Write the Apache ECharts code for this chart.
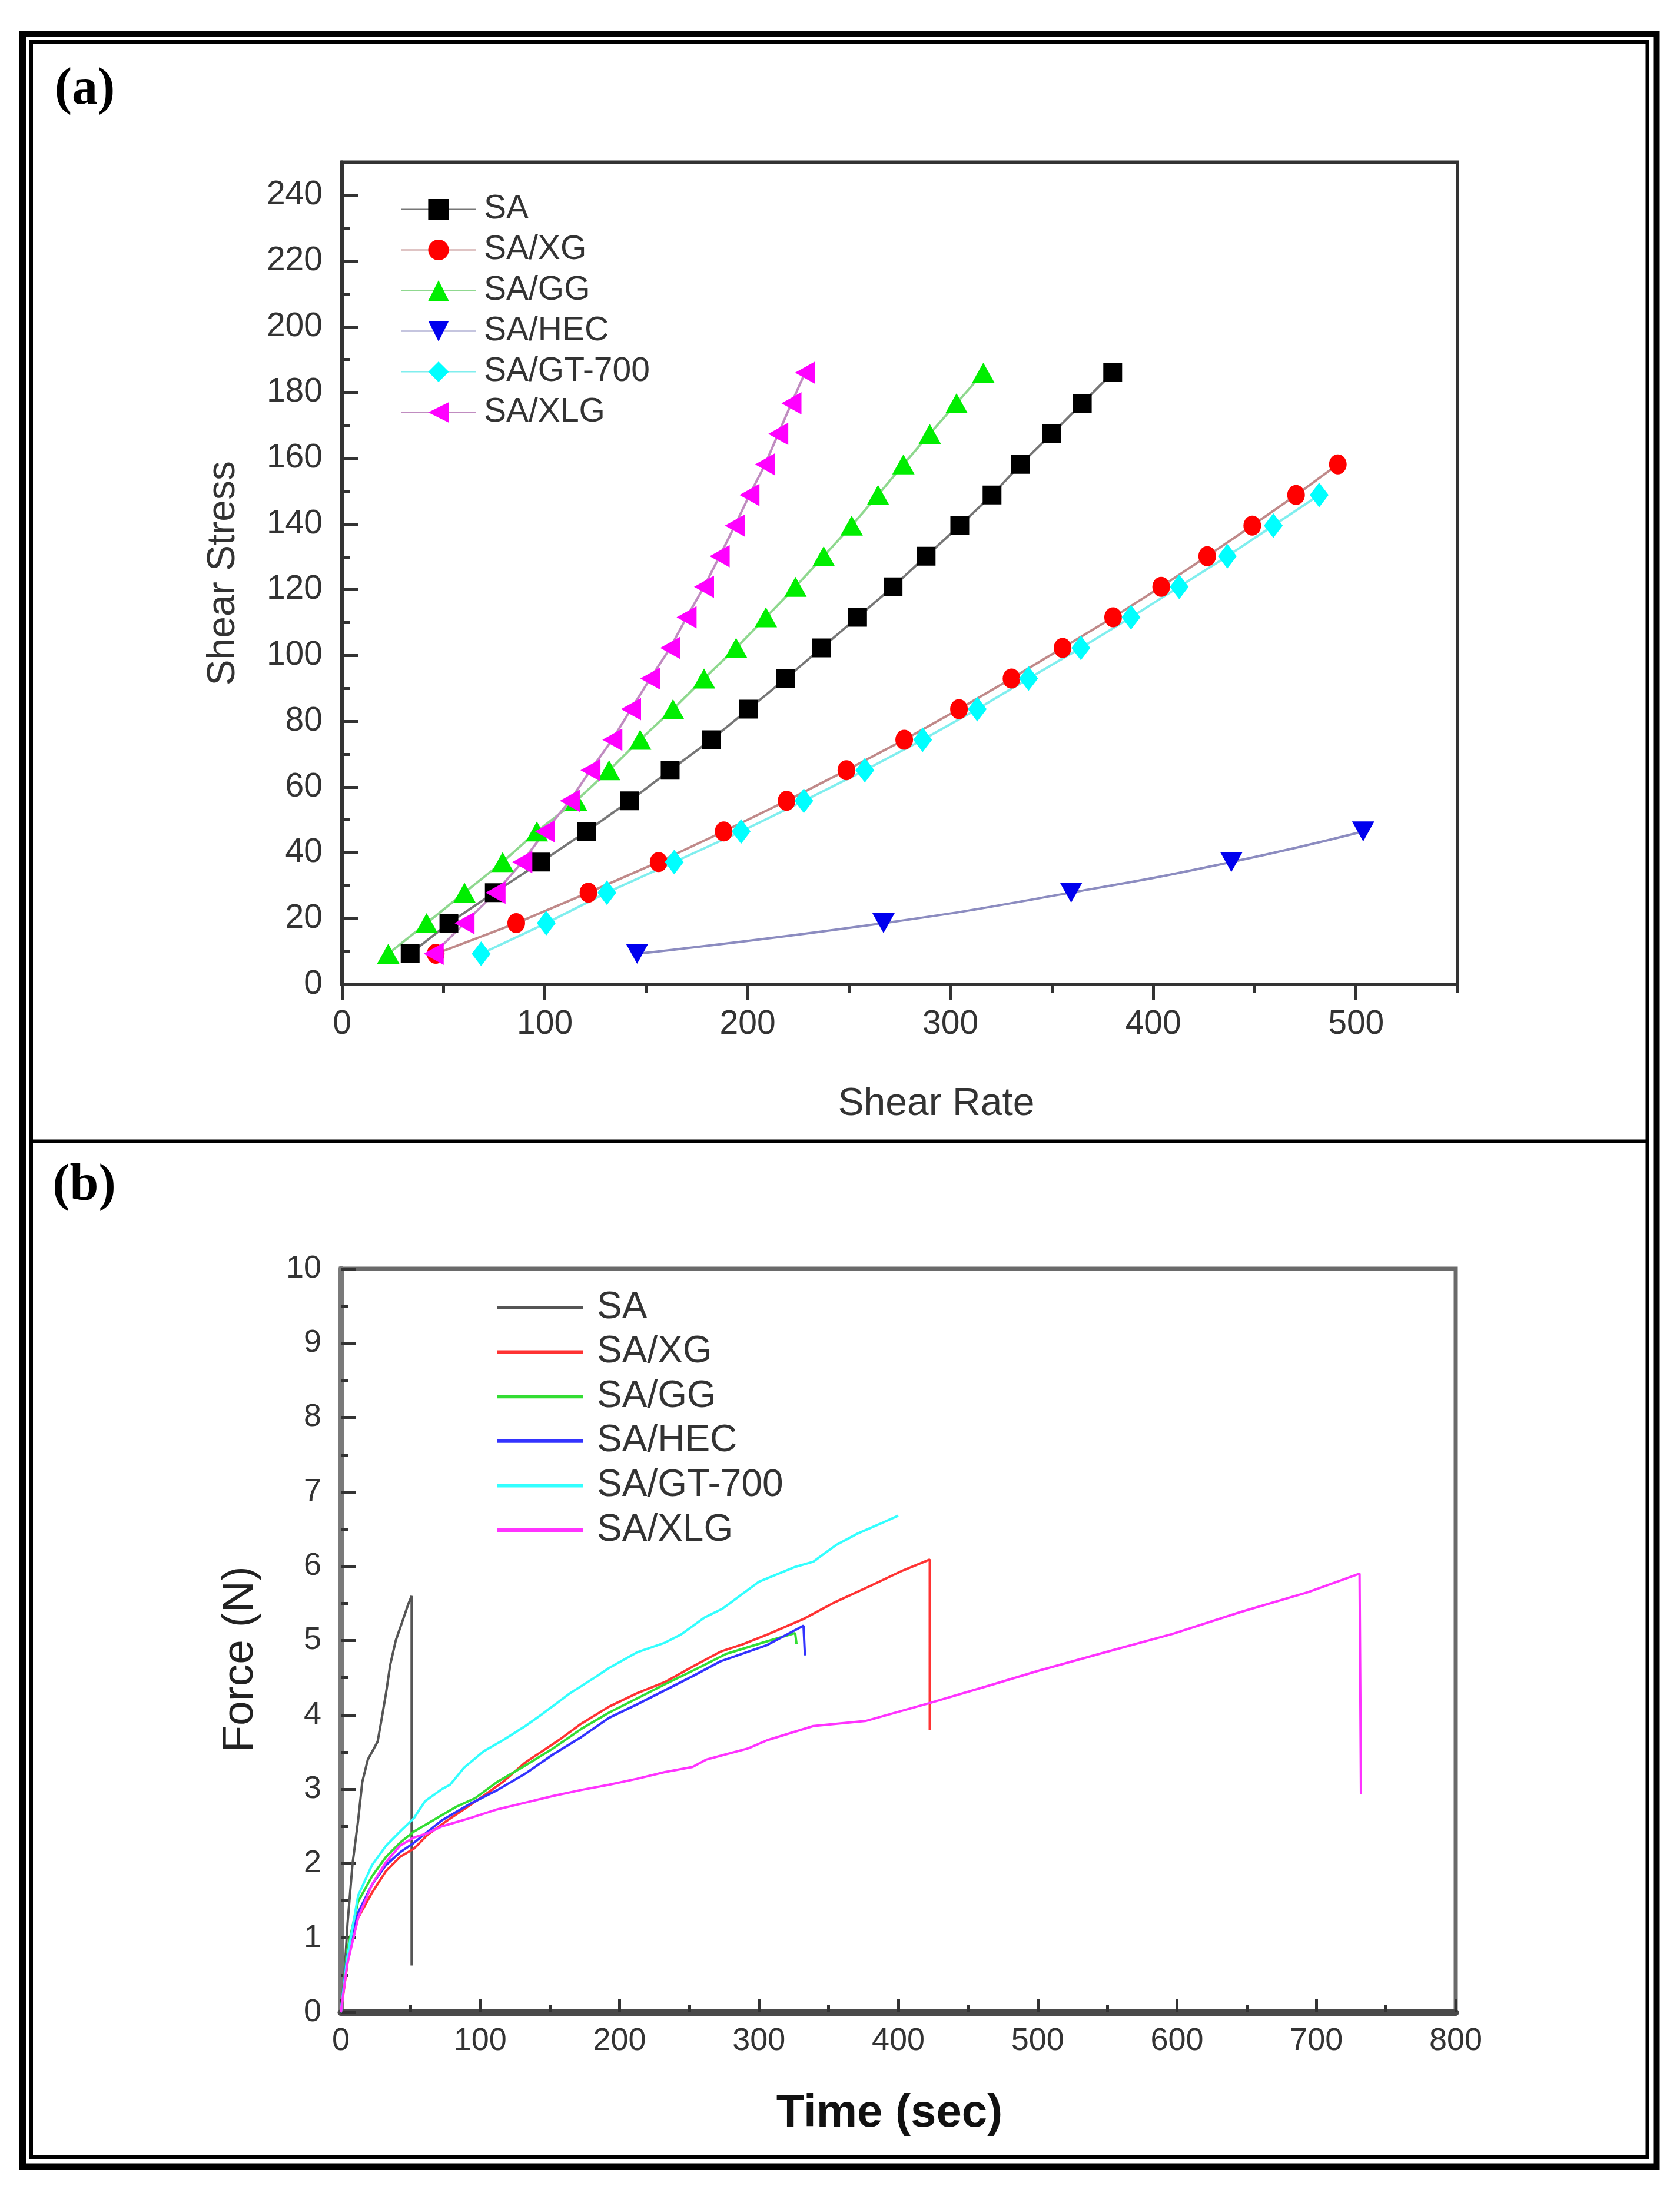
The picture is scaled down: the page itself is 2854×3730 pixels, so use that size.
<!DOCTYPE html>
<html>
<head>
<meta charset="utf-8">
<script src="https://cdn.jsdelivr.net/npm/echarts@6/dist/echarts.min.js"></script>
<style>
  html, body { margin: 0; padding: 0; background: #fff; }
  #main { width: 2854px; height: 3730px; }
</style>
</head>
<body>
<div id="main"></div>
<script>
// ---- panel (a): shear stress vs shear rate ----
// stress steps used by the rheometer (same for every sample)
const stressLevels = [9.3, 18.6, 27.9, 37.2, 46.5, 55.8, 65.1, 74.4, 83.7, 93.0,
  102.3, 111.6, 120.9, 130.2, 139.5, 148.8, 158.1, 167.4, 176.7, 186.0];
const saRate  = [33.6, 52.7, 75.1, 98.1, 120.5, 141.8, 161.8, 182.1, 200.5, 218.8,
  236.5, 254.2, 271.7, 288, 304.6, 320.5, 334.5, 350, 365, 380];
const xgRate  = [46.2, 85.9, 121.5, 156.1, 188.2, 219.2, 248.7, 277.2, 304.2, 330.1,
  355.3, 380.2, 403.9, 426.6, 448.8, 470.4, 491];
const ggRate  = [22.8, 41.7, 60.4, 79.2, 96.1, 115.4, 131.7, 147, 163.2, 178.5,
  194.3, 209, 223.6, 237.5, 251.3, 264.3, 276.8, 289.8, 303, 316.2];
const hecRate = [145.5, 267, 359.5, 438.5, 503.5];
const gtRate  = [68.6, 100.7, 130.6, 163.8, 196.8, 227.7, 257.8, 286.3, 313.2, 338.5,
  364.3, 389, 412.8, 436.5, 459.2, 481.8];
const xlgRate = [45.2, 60.4, 75.7, 88.9, 100.1, 112.3, 122.5, 133.3, 142.5, 152,
  161.8, 169.9, 178.5, 186.2, 193.7, 200.9, 208.6, 215.1, 221.6, 228.3];
const rateTicks   = [0, 100, 200, 300, 400, 500];
const stressTicks = [0, 20, 40, 60, 80, 100, 120, 140, 160, 180, 200, 220, 240];

// ---- panel (b): force vs time ----
const saTime   = [0, 2.4, 4.8, 8.4, 12.4, 15.4, 19.4, 26.4, 29.4, 32.4, 35.4, 39.4, 44.4, 48.4, 50.8, 50.8];
const saForce  = [0, 0.45, 1.19, 2.0, 2.58, 3.1, 3.4, 3.64, 3.96, 4.29, 4.67, 5.0, 5.27, 5.49, 5.6, 0.63];
const xgTime   = [0, 5.4, 12.4, 22.4, 32.4, 42.4, 52.4, 62.4, 76.4, 88.4, 102.4, 116.4, 132.4, 144.4,
  156.4, 172.4, 192.4, 212.4, 232.4, 254.4, 272.4, 288.4, 306, 332, 355, 380.6, 403, 422.6, 422.6];
const xgForce  = [0, 0.75, 1.27, 1.61, 1.90, 2.09, 2.2, 2.39, 2.58, 2.73, 2.91, 3.1, 3.36, 3.51,
  3.66, 3.88, 4.11, 4.29, 4.44, 4.67, 4.85, 4.95, 5.08, 5.29, 5.52, 5.74, 5.94, 6.09, 3.80];
const ggTime   = [0, 4.4, 12.4, 22.4, 32.4, 42.4, 52.4, 62.4, 72.4, 82.4, 96.4, 112.4, 132.4, 152.4,
  172.4, 192.4, 212.4, 232.4, 256.4, 276.4, 306, 326, 327];
const ggForce  = [0, 0.82, 1.49, 1.83, 2.09, 2.28, 2.43, 2.54, 2.65, 2.76, 2.88, 3.1, 3.32, 3.55,
  3.81, 4.03, 4.22, 4.41, 4.63, 4.82, 4.99, 5.10, 4.95];
const hecTime  = [0, 4.4, 12.4, 22.4, 32.4, 42.4, 52.4, 62.4, 72.4, 82.4, 92.4, 112.4, 132.4, 152.4,
  172.4, 192.4, 212.4, 232.4, 252.4, 272.4, 306, 332, 333];
const hecForce = [0, 0.75, 1.34, 1.72, 1.98, 2.15, 2.28, 2.43, 2.58, 2.69, 2.8, 2.99, 3.21, 3.47,
  3.7, 3.96, 4.14, 4.33, 4.52, 4.72, 4.94, 5.2, 4.8];
const gtTime   = [0, 4.4, 12.4, 22.4, 32.4, 42.4, 52.4, 60.4, 72.4, 78.4, 88.4, 102.4, 116.4, 132.4,
  144.4, 164.4, 180.4, 192.4, 212.4, 232.4, 244, 261, 274, 300, 326, 339, 355, 371, 387, 400];
const gtForce  = [0, 0.71, 1.57, 1.98, 2.24, 2.43, 2.61, 2.84, 3.0, 3.06, 3.29, 3.51, 3.66, 3.85,
  4.01, 4.29, 4.48, 4.63, 4.84, 4.97, 5.08, 5.31, 5.43, 5.79, 5.99, 6.06, 6.28, 6.44, 6.57, 6.68];
const xlgTime  = [0, 4.4, 12.4, 22.4, 32.4, 42.4, 52.4, 62.4, 72.4, 92.4, 112.4, 132.4, 152.4, 172.4,
  192.4, 212.4, 232.4, 252.4, 262.4, 276.4, 292.4, 306, 339, 377, 422.6, 468, 500, 548, 597, 645,
  694, 731, 732];
const xlgForce = [0, 0.63, 1.27, 1.72, 2.02, 2.24, 2.35, 2.41, 2.5, 2.61, 2.73, 2.82, 2.91, 2.99,
  3.06, 3.14, 3.23, 3.30, 3.40, 3.47, 3.55, 3.66, 3.85, 3.92, 4.16, 4.41, 4.59, 4.84, 5.09, 5.38,
  5.65, 5.90, 2.93];

const names = ['SA', 'SA/XG', 'SA/GG', 'SA/HEC', 'SA/GT-700', 'SA/XLG'];

const sans = '"Liberation Sans", Arial, sans-serif';
const pairs = (xs, ys) => xs.map((x, i) => [x, ys[i]]);

function rheo(name, rates, symbol, size, rotate, color, lineColor, smooth) {
  return {
    name: name, type: 'line', xAxisIndex: 0, yAxisIndex: 0,
    data: pairs(rates, stressLevels),
    symbol: symbol, symbolSize: size, symbolRotate: rotate,
    smooth: smooth, showAllSymbol: true,
    itemStyle: { color: color },
    lineStyle: { color: lineColor, width: 4 }
  };
}

// bottom series get a suffix so each legend points at its own panel
function force(name, ts, fs, color, width) {
  return {
    name: name + ' (b)', type: 'line', xAxisIndex: 2, yAxisIndex: 2,
    data: pairs(ts, fs), symbol: 'none',
    itemStyle: { color: color },
    lineStyle: { color: color, width: width }
  };
}

const myChart = echarts.init(document.getElementById('main'));

myChart.setOption({
  animation: false,
  backgroundColor: '#fff',
  grid: [
    { left: 581, top: 275.5, width: 1895, height: 1396.5, show: true, borderColor: '#333', borderWidth: 6 },
    { left: 579, top: 2155, width: 1894, height: 1263, show: true, borderColor: '#6a6a6a', borderWidth: 7 }
  ],
  xAxis: [
    {
      gridIndex: 0, type: 'value', min: 0, max: 550, interval: 100, position: 'bottom',
      axisLine: { show: true, onZero: false, lineStyle: { color: '#333', width: 6 } },
      axisTick: { show: true, inside: false, length: 27, customValues: rateTicks, lineStyle: { color: '#333', width: 5 } },
      axisLabel: { customValues: rateTicks, margin: 40, fontSize: 57, color: '#333', fontFamily: sans },
      splitLine: { show: false },
      name: 'Shear Rate', nameLocation: 'middle', nameGap: 171,
      nameTextStyle: { fontSize: 66, color: '#333', fontFamily: sans, padding: [0, 0, 0, 124] }
    },
    {
      // minor ticks every 50
      gridIndex: 0, type: 'value', min: 0, max: 550, interval: 50, position: 'bottom',
      axisLine: { show: false },
      axisTick: { show: true, inside: false, length: 14, lineStyle: { color: '#333', width: 5 } },
      axisLabel: { show: false }, splitLine: { show: false }
    },
    {
      gridIndex: 1, type: 'value', min: 0, max: 800, interval: 100, position: 'bottom',
      axisLine: { show: true, onZero: false, lineStyle: { color: '#4a4a4a', width: 11 } },
      axisTick: { show: true, inside: true, length: 23, lineStyle: { color: '#333', width: 5 } },
      minorTick: { show: true, splitNumber: 2, length: 12, lineStyle: { color: '#333', width: 5 } },
      axisLabel: { margin: 22, fontSize: 54, color: '#333', fontFamily: sans },
      splitLine: { show: false },
      name: 'Time (sec)', nameLocation: 'middle', nameGap: 133,
      nameTextStyle: { fontSize: 78, fontWeight: 'bold', color: '#111', fontFamily: sans, padding: [0, 30, 0, 0] }
    }
  ],
  yAxis: [
    {
      gridIndex: 0, type: 'value', min: 0, max: 250, interval: 20, position: 'left',
      axisLine: { show: true, onZero: false, lineStyle: { color: '#333', width: 6 } },
      axisTick: { show: true, inside: true, length: 27, customValues: stressTicks, lineStyle: { color: '#333', width: 5 } },
      axisLabel: { customValues: stressTicks, margin: 33, fontSize: 57, color: '#333', fontFamily: sans },
      splitLine: { show: false },
      name: 'Shear Stress', nameLocation: 'middle', nameGap: 168,
      nameTextStyle: { fontSize: 66, color: '#333', fontFamily: sans }
    },
    {
      // minor ticks every 10
      gridIndex: 0, type: 'value', min: 0, max: 250, interval: 10, position: 'left',
      axisLine: { show: false },
      axisTick: { show: true, inside: true, length: 14, lineStyle: { color: '#333', width: 5 } },
      axisLabel: { show: false }, splitLine: { show: false }
    },
    {
      gridIndex: 1, type: 'value', min: 0, max: 10, interval: 1, position: 'left',
      axisLine: { show: true, onZero: false, lineStyle: { color: '#7a7a7a', width: 9 } },
      axisTick: { show: true, inside: true, length: 25, lineStyle: { color: '#333', width: 5 } },
      minorTick: { show: true, splitNumber: 2, length: 13, lineStyle: { color: '#333', width: 5 } },
      axisLabel: { margin: 33, fontSize: 54, color: '#333', fontFamily: sans },
      splitLine: { show: false },
      name: 'Force (N)', nameLocation: 'middle', nameGap: 133,
      nameTextStyle: { fontSize: 75, color: '#222', fontFamily: sans, padding: [0, 64, 0, 0] }
    }
  ],
  legend: [
    {
      data: names, orient: 'vertical', left: 675, top: 322,
      itemWidth: 128, itemHeight: 44, itemGap: 12,
      textStyle: { fontSize: 57, lineHeight: 57, color: '#333', fontFamily: sans, padding: [0, 0, 0, 8] }
    },
    {
      data: names.map(n => n + ' (b)'), orient: 'vertical', left: 839, top: 2184,
      icon: 'rect', itemWidth: 146, itemHeight: 6, itemGap: 11.6,
      formatter: n => n.replace(' (b)', ''),
      textStyle: { fontSize: 64, lineHeight: 64, color: '#333', fontFamily: sans, padding: [0, 0, 0, 19] }
    }
  ],
  series: [
    rheo('SA', saRate, 'rect', 32, 0, '#000000', '#777777', false),
    rheo('SA/XG', xgRate, 'circle', [30, 34], 0, '#ff0000', '#c08a8a', false),
    rheo('SA/GG', ggRate, 'triangle', [38, 34], 0, '#00ee00', '#8fd88f', false),
    rheo('SA/HEC', hecRate, 'triangle', [38, 34], 180, '#0000ee', '#8c8cc0', true),
    rheo('SA/GT-700', gtRate, 'diamond', [32, 42], 0, '#00ffff', '#80eeee', false),
    rheo('SA/XLG', xlgRate, 'triangle', [38, 34], 90, '#ff00ff', '#c08cc0', false),
    force('SA', saTime, saForce, '#555555', 4),
    force('SA/XG', xgTime, xgForce, '#ff3333', 4),
    force('SA/GG', ggTime, ggForce, '#33dd33', 4),
    force('SA/HEC', hecTime, hecForce, '#3333ff', 4),
    force('SA/GT-700', gtTime, gtForce, '#33ffff', 4),
    force('SA/XLG', xlgTime, xlgForce, '#ff33ff', 4)
  ],
  graphic: [
    { type: 'rect', silent: true, shape: { x: 38.5, y: 57.5, width: 2775.5, height: 3622.5 },
      style: { fill: 'none', stroke: '#000', lineWidth: 11 } },
    { type: 'rect', silent: true, shape: { x: 53, y: 71, width: 2745.5, height: 3593 },
      style: { fill: 'none', stroke: '#000', lineWidth: 6 } },
    { type: 'line', silent: true, shape: { x1: 53, y1: 1938.5, x2: 2798.5, y2: 1938.5 },
      style: { stroke: '#000', lineWidth: 6 } },
    { type: 'text', silent: true, x: 144, y: 153,
      style: { text: '(a)', fontSize: 88, fontWeight: 'bold', fontFamily: '"Liberation Serif", serif',
        fill: '#000', align: 'center', verticalAlign: 'middle' } },
    { type: 'text', silent: true, x: 143, y: 2015,
      style: { text: '(b)', fontSize: 88, fontWeight: 'bold', fontFamily: '"Liberation Serif", serif',
        fill: '#000', align: 'center', verticalAlign: 'middle' } }
  ]
});
</script>
</body>
</html>
